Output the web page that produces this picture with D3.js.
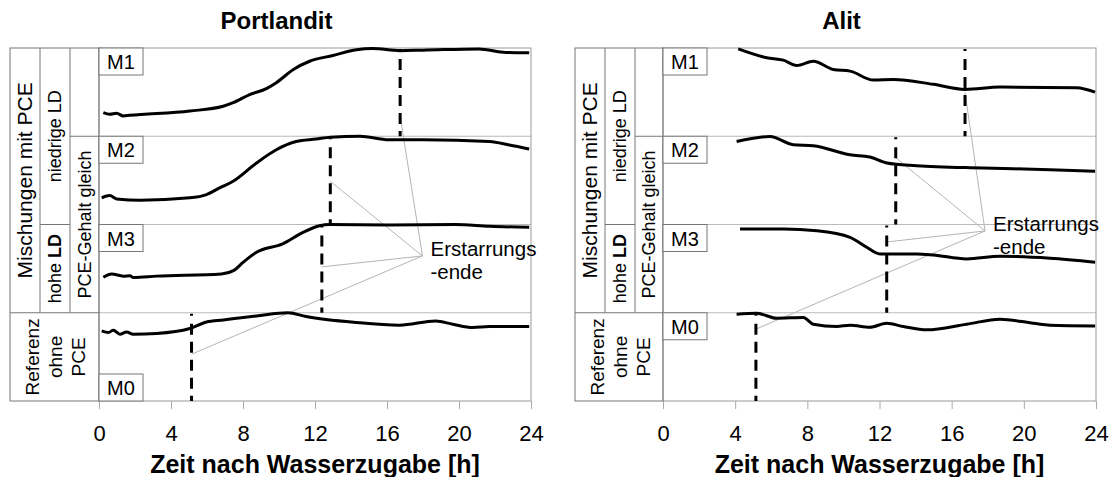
<!DOCTYPE html>
<html>
<head>
<meta charset="utf-8">
<script src="https://cdn.jsdelivr.net/npm/d3@7"></script>
<style>
  body { margin: 0; background: #fff; }
  text { font-family: 'Liberation Sans', Arial, sans-serif; }
</style>
</head>
<body>
<div id="chart"></div>
<script>
const rowLabels = ['M1', 'M2', 'M3', 'M0']
const xTicks = [0, 4, 8, 12, 16, 20, 24]
const panelTitles = ['Portlandit', 'Alit']
const xTitle = 'Zeit nach Wasserzugabe [h]'
const noteLines = ['Erstarrungs', '-ende']

// [hours, signal in % of row height]
const portM1 = [[0.24, 26.8], [0.6, 24.9], [0.98, 26], [1.35, 23], [1.7, 23.7], [5.05, 28.6], [6.9, 34], [7.45, 38], [8.4, 47.5], [9.3, 54], [9.85, 60.7], [10.8, 75.7], [11.7, 85], [13.0, 91.5], [14.3, 98], [15.2, 99.4], [16.7, 97], [18.0, 97.5], [21.1, 99], [22.6, 95], [23.9, 94.6]]
const portM2 = [[0.15, 30.2], [0.6, 32.8], [0.98, 29], [2.3, 27.5], [5.05, 30.2], [5.97, 33.9], [6.7, 41.5], [7.45, 49], [8.75, 69.7], [9.85, 84.7], [10.96, 94], [12.07, 96.8], [12.85, 99], [14.5, 100], [16.1, 96], [18, 96], [21.7, 94], [22.8, 90], [23.9, 85.5]]
const portM3 = [[0.24, 40.3], [0.7, 44], [1.35, 41.5], [1.72, 42], [1.9, 40], [3.2, 41.5], [6.8, 44], [7.5, 48], [8.0, 57], [8.75, 68.6], [10.2, 78], [11.33, 91], [12.25, 98.6], [12.8, 100], [16.1, 99.4], [19.8, 100], [21.7, 98], [23.9, 96.8]]
const portM0 = [[0.15, 79.4], [0.52, 77.6], [0.8, 80.2], [1.16, 75.7], [1.53, 78.3], [1.9, 75.7], [3.2, 76.5], [5.05, 82.1], [5.97, 89.6], [6.9, 91.9], [8.75, 96.4], [10.5, 100], [11.5, 95.7], [14.3, 88.9], [16.7, 85.9], [18.7, 90.7], [19.65, 87], [20.76, 83.3], [21.7, 84.4], [23.9, 84.4]]

const alitM1 = [[4.17, 99], [5.75, 89], [6.67, 86.2], [7.41, 80.2], [8.33, 85], [9.44, 75.7], [10.37, 73.8], [11.66, 63.6], [12.77, 64.4], [14.98, 58.8], [16.74, 53.1], [18.68, 55.7], [22.93, 55], [23.95, 50]]
const alitM2 = [[4.08, 94.1], [5.93, 99.8], [7.22, 90.4], [8.33, 89.3], [10.37, 79], [11.47, 76.5], [12.4, 69.7], [14.06, 66.7], [17.75, 64], [21.45, 62.1], [23.95, 60.2]]
const alitM3 = [[4.27, 94.9], [6.67, 94.9], [8.52, 93], [10.37, 85.5], [11.29, 74.2], [12.03, 66.7], [14.06, 66.7], [14.98, 65.5], [16.83, 61], [18.68, 64], [21.45, 61.8], [23.95, 57.3]]
const alitM0 = [[4.08, 98.3], [5.19, 99.4], [6.3, 93.8], [7.78, 94.6], [8.33, 87], [9.63, 84.4], [10.37, 85.9], [11.47, 83.6], [12.4, 88.1], [13.32, 84.4], [14.62, 80.6], [16.83, 87], [18.68, 92.7], [20.53, 88.1], [21.45, 85.9], [23.95, 85.1]]

// end of setting (h) per row, and where the leader line meets it (% of row)
const portEnd = [16.73, 12.85, 12.38, 5.14]
const portLeaderAt = [22.6, 48.9, 52, 53]
const alitEnd = [16.74, 12.9, 12.4, 5.15]
const alitLeaderAt = [49.7, 75.7, 80.2, 81.4]
// note anchor: [h, % of row M3]
const portNote = [17.97, 64.4]
const alitNote = [17.85, 92.7]

const width = 1110
const height = 477
const plotTop = 48
const plotBottom = 401

const svg = d3.select('#chart')
  .append('svg')
  .attr('width', width)
  .attr('height', height)
  .style('background-color', '#FFF')

const panels = [
  { title: panelTitles[0], labelX: 10, x0: 99, x1: 531, series: [portM1, portM2, portM3, portM0], ends: portEnd, leaders: portLeaderAt, note: portNote, m0Bottom: true },
  { title: panelTitles[1], labelX: 575, x0: 663, x1: 1096, series: [alitM1, alitM2, alitM3, alitM0], ends: alitEnd, leaders: alitLeaderAt, note: alitNote, m0Bottom: false }
]

panels.forEach(p => drawPanel(p))

function drawPanel (p) {
  const g = svg.append('g')

  const x = d3.scaleLinear().domain([0, 24]).range([p.x0, p.x1])
  const rows = d3.scaleBand().domain(rowLabels).range([plotTop, plotBottom])
  const bw = rows.bandwidth()
  const yFor = i => d3.scaleLinear().domain([0, 100]).range([rows(rowLabels[i]) + bw, rows(rowLabels[i])])

  // title, centred over table + plot
  g.append('text')
    .attr('x', (p.labelX + p.x1) / 2 + 6)
    .attr('y', 29)
    .attr('text-anchor', 'middle')
    .attr('font-size', 24)
    .attr('font-weight', 'bold')
    .text(p.title)

  // row separators and frame
  rowLabels.slice(1).forEach(r => {
    g.append('line')
      .attr('x1', p.x0).attr('x2', p.x1)
      .attr('y1', rows(r)).attr('y2', rows(r))
      .attr('stroke', '#bbb')
  })
  g.append('rect')
    .attr('x', p.x0).attr('y', plotTop)
    .attr('width', p.x1 - p.x0).attr('height', plotBottom - plotTop)
    .attr('fill', 'none')
    .attr('stroke', '#999')

  // label table on the left
  const c = [p.labelX, p.labelX + 30, p.labelX + 60, p.x0]
  const yM2 = rows('M2')
  const yM3 = rows('M3')
  const yM0 = rows('M0')
  const box = g.append('g').attr('stroke', '#777').attr('fill', 'none')
  box.append('rect').attr('x', c[0]).attr('y', plotTop).attr('width', c[3] - c[0]).attr('height', plotBottom - plotTop)
  box.append('line').attr('x1', c[0]).attr('x2', c[3]).attr('y1', yM0).attr('y2', yM0)
  box.append('line').attr('x1', c[1]).attr('x2', c[1]).attr('y1', plotTop).attr('y2', yM0)
  box.append('line').attr('x1', c[2]).attr('x2', c[2]).attr('y1', plotTop).attr('y2', yM0)
  box.append('line').attr('x1', c[1]).attr('x2', c[2]).attr('y1', yM3).attr('y2', yM3)
  box.append('line').attr('x1', c[2]).attr('x2', c[3]).attr('y1', yM2).attr('y2', yM2)

  const vText = (cx, cy, lines, size) => {
    const t = g.append('text')
      .attr('transform', `translate(${cx}, ${cy}) rotate(-90)`)
      .attr('text-anchor', 'middle')
      .attr('font-size', size)
    lines.forEach((l, i) => {
      const ts = t.append('tspan')
        .attr('x', 0)
        .attr('y', (i - (lines.length - 1) / 2) * 23 + size * 0.35)
      ts.append('tspan').text(l[0])
      if (l[1]) ts.append('tspan').attr('font-weight', 'bold').text(l[1])
    })
  }
  vText((c[0] + c[1]) / 2, (plotTop + yM0) / 2, [['Mischungen mit PCE']], 21)
  vText((c[1] + c[2]) / 2, (plotTop + yM3) / 2, [['niedrige LD']], 18)
  vText((c[1] + c[2]) / 2, (yM3 + yM0) / 2, [['hohe ', 'LD']], 18)
  vText((c[2] + c[3]) / 2, (yM2 + yM0) / 2, [['PCE-Gehalt gleich']], 18)
  vText((c[0] + c[3]) / 2 + 1, (yM0 + plotBottom) / 2, [['Referenz'], ['ohne'], ['PCE']], 19)

  // x axis
  const axis = g.append('g')
    .attr('transform', `translate(0, ${plotBottom})`)
    .call(d3.axisBottom(x).tickValues(xTicks).tickSize(8).tickPadding(16))
  axis.select('.domain').remove()
  axis.selectAll('line').attr('stroke', '#aaa')
  axis.selectAll('text')
    .attr('font-size', 22)
    .attr('font-family', "'Liberation Sans', Arial, sans-serif")
    .attr('fill', '#000')

  g.append('text')
    .attr('x', (p.x0 + p.x1) / 2)
    .attr('y', 473)
    .attr('text-anchor', 'middle')
    .attr('font-size', 25)
    .attr('font-weight', 'bold')
    .text(xTitle)

  // leader lines
  const ny = yFor(2)(p.note[1])
  const nx = x(p.note[0])
  p.ends.forEach((e, i) => {
    g.append('line')
      .attr('x1', x(e)).attr('y1', yFor(i)(p.leaders[i]))
      .attr('x2', nx).attr('y2', ny)
      .attr('stroke', '#b5b5b5')
      .attr('stroke-width', 1)
  })

  // curves
  const line = d3.line()
    .x(d => x(d[0]))
    .curve(d3.curveMonotoneX)
  p.series.forEach((s, i) => {
    g.append('path')
      .datum(s)
      .attr('fill', 'none')
      .attr('stroke', '#000')
      .attr('stroke-width', 3)
      .attr('stroke-linejoin', 'round')
      .attr('d', line.y(d => yFor(i)(d[1])))
  })

  // end of setting markers
  p.ends.forEach((e, i) => {
    const r = rows(rowLabels[i])
    g.append('line')
      .attr('x1', x(e)).attr('x2', x(e))
      .attr('y1', r + 1).attr('y2', r + bw)
      .attr('stroke', '#000')
      .attr('stroke-width', 3)
      .attr('stroke-dasharray', '2,8,11,7,11,7,11,7,11,7,11,7')
  })

  // note
  const note = g.append('text')
    .attr('x', nx + 8)
    .attr('y', ny)
    .attr('font-size', 20.5)
  noteLines.forEach((l, i) => {
    note.append('tspan').attr('x', nx + 8).attr('y', ny + i * 23).text(l)
  })

  // row name boxes
  rowLabels.forEach((r, i) => {
    const by = (r === 'M0' && p.m0Bottom) ? rows(r) + bw - 27 : rows(r)
    g.append('rect')
      .attr('x', p.x0).attr('y', by)
      .attr('width', 44).attr('height', 27)
      .attr('fill', '#fff')
      .attr('stroke', '#777')
    g.append('text')
      .attr('x', p.x0 + 22).attr('y', by + 21)
      .attr('text-anchor', 'middle')
      .attr('font-size', 20)
      .text(r)
  })
}
</script>
</body>
</html>
